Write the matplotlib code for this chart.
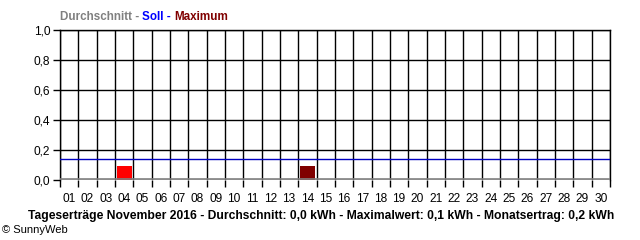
import numpy as np
import matplotlib as mpl
mpl.use('Agg')
import matplotlib.pyplot as plt

plt.rcParams['font.family'] = ['Liberation Sans', 'DejaVu Sans']
plt.rcParams['font.size'] = 8.6

# daily yields November 2016 (kWh)
days = np.arange(1, 31)
day_labels = ['%02d' % d for d in days]
yields = [0, 0, 0, 0.095, 0, 0, 0, 0, 0, 0, 0, 0, 0, 0.095, 0,
          0, 0, 0, 0, 0, 0, 0, 0, 0, 0, 0, 0, 0, 0, 0]
max_day = 14
soll = 0.14
avg = sum(yields) / len(yields)

fig = plt.figure(figsize=(6.4, 2.4), dpi=100)
ax = fig.add_axes([60 / 640, 60 / 240, 550 / 640, 150 / 240])

colors = ['#800000' if d == max_day else '#ff0000' for d in days]
ax.bar(days, yields, width=0.82, color=colors, zorder=3)
ax.axhline(soll, color='#0000c0', lw=1, zorder=4)
ax.axhline(avg, color='#808080', lw=1.2, zorder=4)

ax.set_xlim(0.5, 30.5)
ax.set_ylim(0, 1.0)

# day labels centred, tick marks on day boundaries
ax.set_xticks(days)
ax.set_xticklabels(day_labels)
ax.set_xticks(np.arange(0.5, 31, 1), minor=True)
ax.tick_params(axis='x', which='major', length=0, pad=9)
ax.tick_params(axis='x', which='minor', length=5, width=1, color='black')
yt = np.arange(0, 1.01, 0.2)
ax.set_yticks(yt)
ax.set_yticklabels([('%.1f' % v).replace('.', ',') for v in yt])
ax.tick_params(axis='y', length=5, width=1, pad=2)

ax.grid(which='minor', axis='x', color='black', lw=1, zorder=1)
ax.grid(which='major', axis='y', color='black', lw=1, zorder=1)
for s in ax.spines.values():
    s.set_color('black')
    s.set_linewidth(1)
ax.spines['bottom'].set_visible(False)

# coloured title pieces
parts = [('Durchschnitt - ', '#808080'), ('Soll - ', '#0000ff'),
         ('Maximum', '#800000')]
renderer = fig.canvas.get_renderer()
x = 60
for txt, col in parts:
    t = fig.text(x / 640, 1 - 17 / 240, txt, color=col, fontweight='bold',
                 ha='left', va='center', fontsize=8.4)
    bb = t.get_window_extent(renderer=renderer)
    x += bb.width

fig.text(321 / 640, 1 - 216 / 240,
         'Tageserträge November 2016 - Durchschnitt: 0,0 kWh - Maximalwert: 0,1 kWh - Monatsertrag: 0,2 kWh',
         ha='center', va='center', fontweight='bold', fontsize=8.7)
fig.text(2 / 640, 1 - 230 / 240, '© SunnyWeb', ha='left', va='center', fontsize=8)

fig.savefig('out.png', dpi=100)
